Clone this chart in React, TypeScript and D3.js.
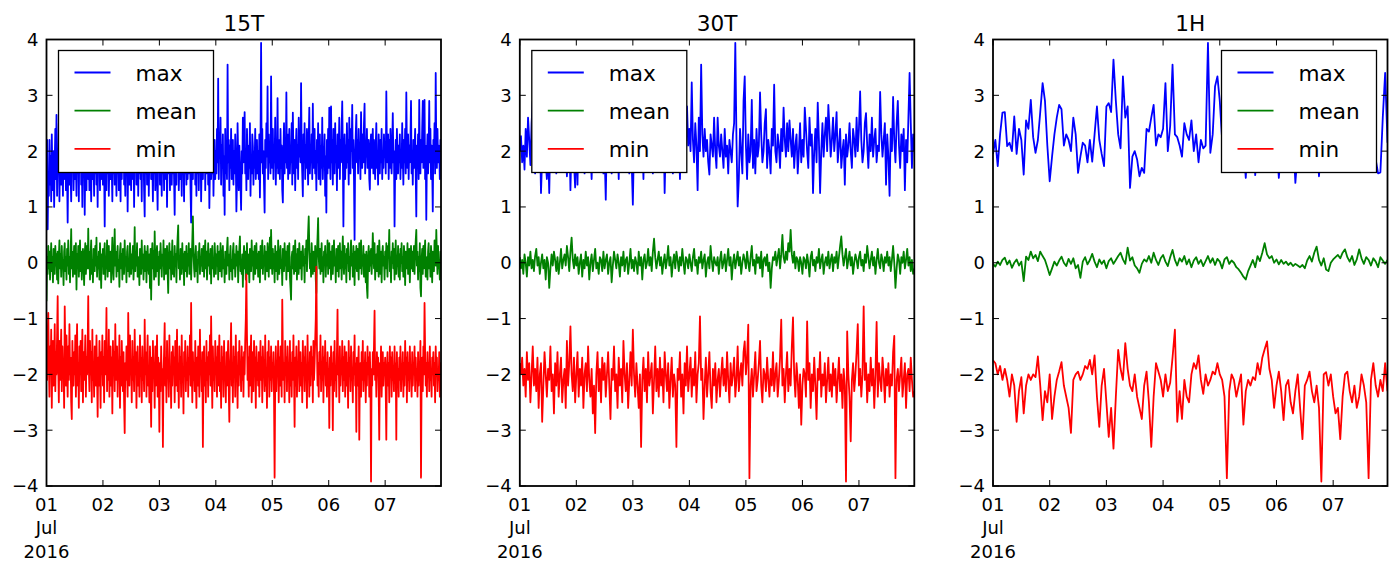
import React from 'react';
import * as d3 from 'd3';

// panel titles, resample step in minutes, legend entries
const titles = ['15T', '30T', '1H'];
const stepMinutes = [15, 30, 60];
const seriesNames = ['max', 'mean', 'min'];
const seriesColors = ['#0000ff', '#008000', '#ff0000'];
const yTicks = [-4, -3, -2, -1, 0, 1, 2, 3, 4];
const dayLabels = ['01', '02', '03', '04', '05', '06', '07'];

// ---- 15T ----
const max15T = [
  1.7, 2.2, 0.6, 1.5, 1.2, 2.2, 1.4, 1.9, 1.1, 2.3, 1.6, 1.3, 2.0, 1.0, 1.8, 2.4, 1.5, 2.65, 1.2, 1.9, 1.6, 2.5, 1.1, 1.8,
  2.1, 1.4, 2.8, 1.7, 1.2, 2.3, 1.5, 1.9, 2.6, 1.3, 2.0, 1.6, 0.72, 1.8, 2.2, 1.4, 2.9, 1.6, 1.1, 2.0, 1.7, 2.4, 1.3, 1.9,
  1.5, 2.2, 1.8, 1.2, 2.5, 1.6, 2.0, 1.1, 2.3, 1.7, 2.7, 1.4, 1.9, 1.0, 2.1, 1.6, 2.4, 0.86, 1.8, 2.2, 1.3, 2.6, 1.7, 1.5,
  2.0, 1.3, 2.4, 1.7, 1.1, 2.2, 1.5, 3.0, 1.8, 1.2, 2.1, 1.6, 2.5, 1.4, 1.9, 1.0, 2.3, 1.7, 2.0, 1.3, 2.6, 1.5, 2.2, 1.8,
  1.4, 2.1, 1.7, 0.65, 1.9, 2.4, 1.3, 2.0, 1.6, 2.7, 1.2, 1.8, 2.2, 1.5, 2.9, 1.7, 1.1, 2.3, 1.6, 2.0, 1.4, 2.5, 1.8, 1.2,
  2.2, 1.6, 2.0, 1.3, 2.6, 1.8, 1.1, 2.4, 1.5, 2.1, 1.7, 3.1, 1.4, 1.9, 1.2, 2.3, 1.6, 2.0, 0.92, 1.8, 2.5, 1.4, 2.1, 1.7,
  1.3, 2.4, 1.9, 1.5, 2.2, 1.0, 2.0, 1.7, 2.8, 1.4, 1.8, 2.3, 1.2, 2.1, 1.6, 2.6, 1.5, 1.9, 1.1, 2.4, 1.7, 2.0, 1.3, 0.83,
  2.2, 1.6, 2.5, 1.4, 1.9, 2.7, 1.2, 2.0, 1.7, 2.3, 1.5, 3.2, 1.8, 1.1, 2.1, 1.6, 2.4, 1.3, 1.9, 2.2, 1.5, 0.95, 2.0, 1.7,
  2.6, 1.4, 2.1, 1.8, 1.2, 2.3, 1.6, 2.0, 1.3, 2.8, 1.7, 1.5, 2.2, 1.0, 1.9, 2.4, 1.6, 2.1, 1.3, 2.5, 1.8, 1.4, 2.0, 1.6,
  2.3, 1.5, 0.86, 1.9, 2.6, 1.4, 2.1, 1.7, 3.0, 1.3, 1.8, 2.2, 1.5, 2.0, 1.2, 2.4, 1.7, 1.9, 1.1, 2.5, 1.6, 2.1, 1.4, 2.7,
  1.5, 1.9, 2.3, 1.6, 2.0, 1.3, 0.72, 1.8, 2.4, 1.5, 2.1, 1.7, 2.9, 1.4, 1.9, 1.2, 2.2, 1.6, 2.5, 1.3, 2.0, 1.7, 2.3, 1.1,
  1.8, 2.4, 1.5, 2.0, 1.7, 2.6, 1.3, 2.2, 1.6, 1.9, 2.8, 1.4, 2.1, 0.98, 1.7, 2.3, 1.5, 2.0, 1.6, 2.5, 1.2, 1.9, 2.2, 1.5,
  2.0, 1.6, 2.4, 1.8, 3.3, 1.5, 2.2, 1.9, 2.6, 1.4, 2.1, 1.7, 2.3, 1.2, 1.9, 0.86, 2.4, 1.6, 2.0, 1.5, 3.55, 1.8, 2.2, 1.3,
  2.1, 1.7, 2.4, 1.5, 1.9, 2.2, 1.4, 2.0, 1.6, 2.3, 1.8, 0.92, 1.5, 2.5, 1.9, 1.3, 2.1, 1.7, 1.4, 0.95, 2.0, 1.6, 2.6, 1.8,
  2.2, 2.7, 1.6, 2.0, 1.3, 2.4, 1.8, 1.5, 2.1, 1.7, 2.5, 1.2, 1.9, 1.6, 2.3, 2.09, 1.4, 2.0, 1.7, 2.4, 1.5, 1.9, 2.2, 1.6,
  2.0, 1.5, 2.3, 1.17, 2.1, 3.94, 1.8, 2.4, 1.6, 2.0, 1.4, 0.9, 2.2, 1.7, 2.5, 1.9, 3.16, 1.5, 2.3, 1.8, 2.1, 1.6, 3.34, 2.0,
  1.7, 2.4, 1.5, 2.1, 1.8, 2.6, 1.4, 2.0, 1.7, 2.95, 1.6, 2.2, 1.9, 1.5, 2.4, 1.7, 2.1, 1.3, 1.08, 2.0, 2.5, 1.6, 2.2, 1.8,
  3.05, 1.7, 2.3, 1.5, 2.0, 2.4, 1.6, 2.1, 1.8, 2.5, 1.4, 2.69, 1.9, 1.6, 2.2, 1.3, 2.0, 2.4, 1.7, 2.1, 1.5, 2.6, 1.9, 2.2,
  1.8, 3.22, 2.0, 1.6, 1.19, 2.3, 1.8, 2.5, 1.5, 2.1, 1.7, 2.4, 1.9, 1.4, 2.2, 2.78, 1.6, 2.0, 1.8, 2.3, 1.5, 2.85, 1.7, 2.1,
  2.4, 1.6, 2.0, 1.3, 2.2, 1.8, 2.5, 1.5, 1.9, 2.3, 1.4, 2.1, 1.7, 2.6, 1.5, 2.0, 1.8, 2.3, 1.2, 1.9, 0.9, 2.2, 1.6, 2.4,
  1.7, 2.78, 2.0, 1.5, 2.8, 1.8, 2.2, 1.4, 2.4, 1.9, 1.6, 2.5, 1.8, 2.1, 1.3, 2.3, 1.7, 2.0, 2.6, 1.5, 2.2, 1.8, 2.4, 2.89,
  2.0, 0.65, 1.9, 2.3, 1.5, 2.1, 1.7, 2.5, 1.8, 2.2, 1.4, 2.6, 1.9, 1.6, 2.4, 2.0, 2.83, 1.7, 2.2, 1.5, 0.41, 1.9, 2.3, 2.65,
  1.8, 2.2, 1.6, 2.4, 1.9, 2.1, 1.5, 2.7, 2.0, 1.7, 2.3, 1.8, 2.5, 2.85, 1.6, 2.1, 1.9, 2.4, 1.7, 2.0, 2.2, 1.5, 1.31, 2.1,
  2.3, 1.7, 2.0, 2.4, 1.6, 2.2, 1.8, 1.5, 2.1, 2.5, 1.7, 2.0, 1.4, 2.3, 1.9, 1.6, 2.2, 1.8, 2.4, 1.5, 2.0, 1.7, 2.3, 1.9,
  2.1, 1.6, 3.07, 2.0, 1.8, 2.3, 1.5, 2.2, 1.7, 2.4, 1.9, 1.6, 2.1, 2.68, 1.8, 2.0, 0.65, 1.7, 2.2, 1.5, 2.4, 1.9, 1.6, 2.1,
  1.8, 2.3, 1.5, 2.0, 1.7, 2.5, 1.9, 1.4, 2.2, 1.8, 2.4, 1.6, 3.05, 2.0, 1.7, 2.3, 1.5, 2.1, 1.8, 2.2, 2.9, 1.6, 2.0, 1.4,
  2.2, 1.7, 2.0, 2.4, 1.6, 0.83, 2.1, 1.8, 2.3, 1.5, 2.92, 1.9, 1.6, 2.2, 1.8, 2.4, 2.9, 1.7, 2.0, 2.92, 1.5, 2.1, 0.77, 1.9,
  2.3, 1.6, 2.0, 2.9, 1.8, 2.4, 1.5, 2.1, 1.7, 0.92, 2.2, 1.9, 2.5, 1.6, 3.4, 2.0, 1.7, 2.4, 1.8, 2.1, 2.0, 1.5, 2.2, 1.9,
];

const mean15T = [
  -0.69, 0.1, -0.2, 0.3, -0.1, 0.2, -0.3, 0.05, 0.35, -0.15, 0.1, -0.35, 0.25, 0.0, -0.2, 0.3, -0.05, 0.15, -0.3, 0.2, -0.37, 0.1, 0.4, -0.1,
  0.15, -0.25, 0.3, -0.1, 0.05, -0.4, 0.2, 0.35, -0.15, 0.1, -0.3, 0.25, -0.05, 0.4, -0.2, 0.1, -0.35, 0.15, 0.6, -0.1, 0.2, -0.25, 0.05, 0.3,
  -0.2, 0.1, 0.35, -0.48, 0.15, -0.1, 0.3, -0.25, 0.05, 0.4, -0.15, 0.2, -0.3, 0.1, 0.25, -0.05, -0.4, 0.15, 0.35, -0.2, 0.05, 0.3, -0.1, 0.61,
  -0.1, 0.2, -0.3, 0.15, 0.4, -0.2, 0.05, -0.35, 0.25, 0.1, -0.15, 0.3, -0.05, 0.45, -0.25, 0.1, -0.1, 0.2, -0.3, 0.35, 0.0, -0.45, 0.15, -0.05,
  0.25, -0.2, 0.1, 0.35, -0.3, 0.05, -0.1, 0.4, -0.25, 0.15, 0.3, -0.15, 0.0, 0.2, -0.35, 0.1, 0.45, -0.1, -0.3, 0.15, 0.6, -0.05, 0.2, -0.25,
  0.1, 0.3, -0.15, 0.05, -0.43, 0.2, 0.35, -0.1, 0.15, -0.3, 0.25, 0.0, -0.2, 0.4, -0.05, 0.1, -0.35, 0.2, 0.3, -0.15, 0.05, -0.25, 0.35, 0.1,
  -0.2, 0.15, -0.1, 0.3, -0.3, 0.05, 0.64, -0.15, 0.2, -0.05, 0.35, -0.25, 0.1, 0.0, -0.4, 0.25, 0.1, -0.2, 0.4, -0.1, 0.15, -0.3, 0.05, 0.3,
  -0.15, 0.2, -0.35, 0.1, 0.3, -0.05, -0.2, 0.15, -0.45, 0.25, -0.66, 0.05, 0.35, -0.1, 0.2, -0.3, 0.56, 0.0, -0.25, 0.15, 0.3, -0.15, 0.1, -0.4,
  0.2, -0.1, 0.35, 0.05, -0.25, 0.15, -0.05, 0.4, -0.3, 0.1, 0.25, -0.2, 0.0, 0.3, -0.15, -0.54, 0.1, 0.35, -0.1, 0.2, -0.3, 0.05, 0.4, -0.2,
  0.1, -0.25, 0.3, -0.05, 0.15, -0.35, 0.2, 0.45, 0.67, -0.1, 0.1, -0.3, 0.25, 0.0, -0.2, 0.35, -0.1, 0.15, -0.4, 0.2, 0.05, -0.15, 0.3, -0.25,
  0.15, -0.05, 0.35, -0.2, 0.1, 0.25, -0.3, 0.05, 0.4, 0.83, 0.2, -0.1, -0.25, 0.1, 0.3, -0.15, 0.05, -0.35, 0.2, 0.0, 0.35, -0.2, 0.1, -0.05,
  0.25, -0.15, 0.05, 0.3, -0.25, 0.15, 0.4, -0.1, 0.2, -0.3, 0.0, 0.35, -0.05, 0.15, -0.2, 0.25, -0.37, 0.1, 0.3, -0.1, 0.05, -0.25, 0.35, 0.1,
  -0.2, 0.15, -0.05, 0.3, -0.3, 0.1, 0.2, -0.15, 0.35, 0.0, -0.25, 0.15, 0.3, -0.1, 0.05, -0.35, 0.2, 0.1, -0.2, 0.25, 0.45, -0.05, 0.15, -0.3,
  0.1, 0.3, -0.15, 0.05, -0.3, 0.2, 0.35, -0.1, 0.15, -0.25, 0.0, 0.3, -0.05, 0.2, -0.35, 0.1, 0.25, 0.47, -0.15, 0.05, -0.2, 0.15, -0.43, 0.1,
  0.3, -0.1, 0.2, -0.3, 0.05, 0.35, -0.2, 0.15, 0.0, -0.35, 0.25, 0.1, -0.15, 0.4, -0.05, 0.2, -0.3, 0.1, 0.3, -0.2, 0.05, 0.35, -0.1, 0.15,
  -0.25, 0.2, 0.05, -0.35, 0.3, -0.1, 0.15, 0.4, -0.2, 0.1, -0.05, 0.3, -0.3, 0.2, 0.0, -0.15, 0.35, 0.1, -0.25, 0.2, 0.45, -0.1, 0.59, 0.05,
  -0.2, 0.25, -0.1, 0.15, -0.35, 0.3, 0.05, -0.15, 0.2, -0.3, 0.4, 0.0, -0.2, 0.15, 0.3, -0.1, 0.05, -0.4, 0.25, 0.1, -0.15, 0.35, -0.05, 0.2,
  -0.3, 0.1, 0.3, -0.15, 0.05, 0.35, -0.25, -0.45, -0.66, 0.1, 0.2, -0.1, 0.3, -0.2, 0.05, 0.4, -0.15, 0.15, -0.3, 0.25, 0.0, -0.2, 0.35, 0.1,
  -0.1, 0.2, -0.3, 0.15, 0.3, -0.05, 0.1, -0.35, 0.25, 0.0, 0.4, -0.15, 0.2, 0.55, 0.83, 0.3, -0.1, 0.15, -0.25, 0.35, 0.05, -0.2, 0.2, 0.1,
  -0.15, 0.3, -0.3, -0.54, 0.2, 0.45, 0.8, 0.1, -0.1, 0.25, -0.2, 0.05, 0.35, -0.15, 0.1, -0.35, 0.2, 0.0, 0.3, -0.25, 0.15, -0.05, 0.4, -0.2,
  0.1, 0.35, -0.1, 0.2, -0.3, 0.05, 0.3, -0.2, 0.15, 0.4, -0.05, 0.1, -0.35, 0.25, 0.0, -0.15, 0.3, -0.25, 0.1, 0.35, -0.1, 0.2, -0.3, 0.15,
  0.47, 0.05, -0.2, 0.3, -0.1, 0.15, -0.35, 0.25, 0.0, 0.35, -0.15, 0.1, -0.3, 0.2, 0.4, -0.05, 0.15, -0.25, 0.3, 0.05, -0.4, 0.2, -0.1, 0.3,
  -0.15, 0.25, 0.05, -0.3, 0.35, -0.1, 0.15, 0.4, -0.2, 0.1, -0.05, 0.3, -0.25, 0.15, 0.0, -0.35, 0.2, -0.45, -0.63, 0.1, 0.3, -0.15, 0.2, -0.05,
  0.25, -0.2, 0.1, 0.53, 0.2, -0.1, 0.35, -0.3, 0.05, 0.15, -0.15, 0.3, 0.0, -0.25, 0.4, 0.1, -0.2, 0.2, -0.35, 0.15, 0.3, -0.05, 0.1, -0.3,
  0.2, -0.1, 0.35, 0.05, -0.25, 0.3, 0.15, 0.59, -0.15, 0.1, -0.35, 0.2, 0.0, 0.35, -0.1, 0.25, -0.3, 0.1, 0.4, -0.2, 0.05, -0.05, 0.3, -0.25,
  0.15, -0.3, 0.25, 0.0, 0.35, -0.15, 0.1, -0.25, 0.3, 0.05, -0.4, 0.2, 0.1, -0.1, 0.35, -0.2, 0.15, 0.25, -0.35, 0.05, 0.3, -0.1, 0.2, -0.15,
  0.1, 0.3, -0.2, 0.15, 0.4, 0.59, -0.05, 0.2, -0.3, 0.1, -0.15, 0.35, -0.45, -0.6, 0.05, 0.25, -0.2, 0.3, -0.1, 0.15, 0.4, -0.25, 0.1, 0.0,
  -0.3, 0.2, 0.35, -0.1, 0.15, -0.25, 0.3, 0.05, -0.35, 0.2, 0.1, -0.15, 0.4, 0.25, -0.05, 0.59, 0.15, -0.2, 0.3, -0.1, 0.05, -0.3, 0.2, -0.1,
];

const min15T = [
  -1.6, -2.1, -1.3, -0.9, -1.8, -2.4, -1.5, -2.0, -1.2, -2.6, -1.7, -1.4, -2.2, -1.9, -1.1, -2.3, -1.6, -2.0, -1.3, -0.6, -1.9, -2.5, -1.4, -2.1,
  -1.7, -1.2, -2.3, -1.5, -2.0, -1.8, -2.6, -0.78, -1.6, -2.2, -1.3, -1.9, -2.4, -1.5, -2.1, -1.1, -2.0, -1.7, -2.5, -2.8, -1.4, -1.9, -2.2, -1.6,
  -2.0, -1.3, -2.4, -1.7, -1.1, -2.2, -1.8, -2.6, -1.5, -2.0, -1.4, -2.3, -1.9, -1.2, -2.5, -1.6, -2.1, -1.8, -1.3, -2.4, -1.7, -2.0, -1.5, -0.6,
  -1.9, -2.3, -1.4, -2.0, -1.6, -2.5, -1.2, -2.1, -1.8, -2.4, -1.5, -1.9, -2.2, -1.3, -2.0, -2.76, -1.7, -2.2, -1.4, -1.9, -2.6, -1.6, -2.0, -1.3,
  -2.2, -1.7, -2.5, -1.4, -2.0, -1.8, -0.81, -2.3, -1.6, -2.1, -1.2, -2.4, -1.9, -1.5, -2.2, -1.7, -2.7, -1.4, -2.0, -1.6, -2.3, -1.1, -1.9, -2.1,
  -1.5, -2.4, -1.8, -2.0, -1.3, -2.6, -1.7, -2.2, -1.4, -1.9, -2.3, -1.6, -2.5, -3.05, -1.8, -2.1, -1.5, -2.0, -2.4, -0.9, -1.7, -2.2, -1.3, -2.0,
  -1.8, -2.5, -1.4, -2.1, -1.7, -2.3, -1.2, -2.0, -1.6, -2.6, -1.9, -1.5, -2.2, -1.8, -2.4, -1.3, -2.0, -1.7, -2.5, -1.5, -2.1, -1.8, -2.3, -1.02,
  -2.0, -1.6, -2.4, -1.8, -1.3, -2.2, -1.9, -2.5, -1.5, -2.1, -2.94, -1.7, -2.3, -1.4, -2.0, -1.8, -2.6, -1.5, -2.2, -1.9, -1.3, -2.4, -1.7, -2.0,
  -3.03, -1.8, -2.3, -1.5, -2.1, -1.9, -3.3, -2.0, -1.6, -1.08, -2.2, -1.7, -2.5, -1.4, -2.0, -1.8, -2.4, -1.3, -2.1, -1.9, -2.6, -1.6, -2.2, -1.5,
  -2.0, -1.7, -2.5, -1.4, -2.2, -1.9, -1.2, -2.3, -1.8, -2.6, -1.5, -2.0, -1.7, -2.4, -1.3, -2.1, -1.9, -2.7, -1.6, -2.0, -1.4, -2.3, -1.8, -2.1,
  -1.5, -2.4, -1.7, -2.0, -1.3, -2.2, -0.72, -1.9, -2.5, -1.6, -2.1, -1.8, -2.3, -1.4, -2.0, -2.6, -1.7, -2.2, -1.5, -1.9, -2.4, -1.2, -2.0, -1.8,
  -2.3, -1.6, -3.3, -2.0, -1.5, -2.2, -1.8, -2.5, -1.4, -2.1, -1.7, -2.4, -1.6, -2.0, -1.3, -2.2, -0.96, -1.9, -2.6, -1.5, -2.1, -1.8, -2.3, -1.4,
  -2.0, -1.7, -2.4, -1.5, -2.2, -1.9, -1.3, -2.3, -1.8, -2.6, -1.5, -2.0, -1.7, -2.4, -1.4, -2.1, -1.9, -2.5, -1.6, -2.2, -1.8, -1.4, -2.3, -2.85,
  -1.9, -1.6, -1.08, -2.2, -1.8, -2.5, -1.5, -2.0, -1.7, -2.4, -1.3, -2.1, -1.9, -2.6, -1.6, -2.2, -1.4, -2.0, -1.8, -2.3, -1.5, -2.1, -1.7, -2.4,
  -1.6, -2.0, -1.4, -1.0, -0.21, -1.3, -2.1, -1.7, -2.4, -1.5, -2.2, -1.8, -1.3, -2.5, -1.9, -1.6, -2.3, -1.4, -2.0, -1.7, -2.6, -1.5, -2.1, -1.8,
  -2.2, -1.6, -2.4, -1.9, -1.4, -2.1, -1.7, -2.5, -1.5, -2.0, -1.8, -2.3, -1.3, -2.2, -1.9, -2.6, -1.6, -2.0, -1.4, -2.4, -1.7, -2.1, -1.5, -2.3,
  -1.8, -2.0, -1.6, -2.4, -3.85, -2.1, -1.5, -2.3, -1.8, -2.0, -1.4, -2.5, -1.7, -2.2, -1.5, -1.9, -2.4, -0.66, -1.6, -2.1, -1.8, -2.5, -1.4, -2.0,
  -1.7, -2.3, -1.5, -2.0, -1.9, -2.5, -1.4, -2.2, -1.8, -2.4, -1.6, -2.1, -1.3, -2.0, -2.94, -1.7, -2.2, -1.5, -2.4, -1.8, -2.0, -1.4, -2.3, -1.9,
  -1.6, -2.2, -1.8, -2.5, -1.4, -2.0, -1.7, -2.3, -1.5, -2.1, -1.9, -2.6, -1.3, -2.0, -1.8, -2.4, -1.6, -2.2, -1.5, -2.0, -1.7, -2.5, -1.4, -2.1,
  -1.8, -1.4, -1.0, -0.07, -1.5, -2.2, -1.8, -2.4, -1.6, -2.0, -1.3, -2.3, -1.9, -2.1, -1.5, -2.5, -1.7, -2.0, -1.4, -2.2, -1.8, -2.4, -1.6, -2.0,
  -1.9, -2.96, -1.7, -2.2, -1.5, -2.0, -1.8, -3.0, -1.6, -2.3, -1.4, -2.1, -1.9, -2.4, -1.6, -0.84, -2.0, -1.7, -2.5, -1.5, -2.2, -1.8, -2.0, -1.4,
  -2.3, -1.7, -2.1, -1.5, -2.4, -1.9, -1.6, -2.2, -1.8, -2.6, -1.4, -2.0, -1.7, -2.3, -1.5, -2.1, -1.9, -2.5, -1.6, -2.0, -1.3, -2.2, -1.8, -3.03,
  -1.7, -2.2, -1.9, -1.5, -3.17, -2.0, -1.8, -2.4, -1.6, -2.1, -1.4, -2.3, -1.9, -2.0, -1.6, -2.5, -1.8, -2.2, -1.5, -2.0, -1.7, -2.4, -1.6, -2.1,
  -3.92, -1.9, -2.2, -1.6, -2.0, -1.5, -0.86, -2.1, -1.8, -2.4, -1.6, -2.0, -1.7, -2.3, -3.17, -1.8, -2.1, -1.5, -2.4, -1.9, -1.6, -2.2, -1.8, -2.0,
  -1.7, -2.3, -3.17, -1.9, -1.6, -2.2, -1.8, -2.5, -1.5, -2.0, -1.7, -2.4, -1.6, -2.1, -1.9, -2.3, -1.5, -2.0, -1.8, -3.17, -1.6, -2.2, -1.9, -2.4,
  -1.7, -2.1, -1.5, -2.3, -1.9, -2.0, -1.6, -2.4, -1.8, -2.2, -1.4, -2.0, -1.7, -2.5, -1.6, -2.1, -1.8, -2.3, -1.5, -2.0, -1.9, -2.4, -1.6, -2.2,
  -1.8, -2.0, -1.5, -2.3, -1.7, -2.1, -1.9, -2.4, -1.6, -2.2, -1.8, -2.0, -1.4, -3.85, -2.1, -1.7, -2.3, -1.5, -2.0, -0.72, -1.6, -2.2, -1.8, -2.4,
  -1.6, -2.0, -1.8, -2.3, -1.5, -2.1, -1.9, -2.4, -1.7, -2.0, -1.6, -2.2, -1.8, -2.5, -1.5, -2.0, -1.7, -2.3, -1.9, -2.1, -1.6, -2.4, -1.8, -2.3,
];

// ---- 30T ----
const max30T = [
  2.0, 2.27, 1.8, 2.1, 1.67, 2.4, 1.9, 2.6, 2.2, 1.75, 2.5, 2.9, 2.1, 1.6, 2.3, 2.0, 1.7, 2.4, 1.25, 1.9, 2.2, 2.7, 1.8, 1.5,
  2.1, 1.25, 2.3, 2.8, 1.9, 2.0, 2.5, 1.6, 2.2, 3.0, 2.4, 1.7, 2.1, 1.9, 2.6, 2.3, 1.55, 2.0, 2.4, 1.3, 2.2, 2.7, 1.8, 1.35,
  2.3, 1.4, 2.6, 2.0, 1.9, 2.9, 2.2, 1.6, 2.4, 2.1, 1.8, 2.7, 2.0, 1.5, 2.3, 2.5, 1.9, 2.2, 3.1, 2.0, 1.7, 2.4, 2.2, 1.6,
  2.0, 1.13, 2.4, 2.7, 1.9, 2.2, 1.6, 2.5, 2.1, 2.8, 1.8, 2.3, 1.5, 2.6, 2.0, 2.2, 1.7, 2.9, 2.4, 1.9, 2.1, 1.6, 2.3, 1.8,
  1.04, 2.2, 2.6, 1.9, 2.4, 1.7, 2.0, 2.8, 2.2, 1.5, 2.5, 2.1, 3.2, 2.3, 1.8, 2.0, 2.6, 1.6, 2.4, 2.2, 1.9, 2.7, 2.1, 1.7,
  2.3, 2.0, 2.6, 1.25, 2.2, 2.5, 1.9, 2.1, 2.9, 2.4, 1.6, 2.0, 2.3, 1.8, 2.7, 2.2, 1.5, 2.4, 2.0, 2.6, 1.9, 2.3, 2.8, 2.1,
  2.4, 2.0, 3.23, 2.2, 1.8, 2.5, 2.1, 1.3, 2.6, 2.0, 3.55, 2.3, 1.9, 2.4, 2.0, 2.2, 1.8, 1.58, 2.3, 2.1, 1.9, 2.6, 2.0, 1.7,
  2.6, 2.1, 1.9, 2.3, 2.0, 1.7, 2.4, 1.9, 2.1, 1.6, 2.2, 2.0, 1.8, 2.3, 2.5, 3.94, 2.2, 1.01, 1.5, 2.4, 2.0, 1.6, 2.9, 3.34,
  2.1, 1.5, 2.3, 1.8, 2.0, 2.92, 1.7, 2.2, 1.6, 2.4, 1.9, 2.1, 3.05, 2.3, 1.8, 2.0, 2.5, 2.75, 1.7, 2.2, 2.0, 1.6, 2.4, 2.1,
  3.19, 2.0, 1.8, 2.3, 2.1, 1.7, 2.4, 2.0, 2.78, 2.2, 1.9, 2.5, 2.0, 2.55, 2.2, 1.9, 2.4, 1.7, 2.1, 2.3, 1.6, 2.0, 2.5, 1.8,
  2.2, 1.9, 2.78, 2.4, 2.0, 1.7, 2.6, 2.1, 2.3, 1.25, 2.0, 2.4, 1.8, 2.87, 2.2, 1.25, 2.0, 2.5, 1.9, 2.3, 2.6, 2.0, 2.83, 2.4,
  1.9, 2.2, 2.6, 2.0, 2.3, 2.7, 1.8, 2.1, 2.4, 1.7, 2.0, 2.2, 1.4, 2.3, 1.9, 2.1, 2.5, 2.0, 1.7, 2.4, 2.2, 1.9, 2.6, 2.0,
  2.4, 3.07, 2.2, 1.8, 2.0, 2.5, 2.68, 2.1, 1.7, 2.3, 2.0, 2.6, 1.9, 2.2, 2.4, 1.8, 2.1, 2.0, 3.06, 2.3, 1.9, 2.2, 2.5, 1.4,
  2.3, 1.9, 1.2, 2.4, 2.0, 2.97, 2.2, 1.8, 2.5, 2.9, 2.1, 1.7, 2.3, 2.0, 2.4, 1.3, 2.2, 1.8, 2.6, 3.4, 2.5, 1.7, 2.3, 2.0,
];

const mean30T = [
  0.1, -0.1, 0.05, -0.2, 0.15, 0.0, -0.25, 0.1, -0.05, 0.2, -0.1, 0.05, -0.15, 0.12, 0.25, -0.05, 0.1, -0.2, 0.0, 0.15, -0.1, 0.05, -0.3, 0.1,
  0.0, -0.45, -0.1, 0.15, -0.05, 0.2, 0.05, -0.15, 0.1, -0.2, 0.0, 0.25, -0.1, 0.05, 0.15, -0.05, 0.3, 0.1, -0.15, 0.2, 0.45, 0.05, -0.1, 0.15,
  -0.05, 0.1, -0.2, 0.0, 0.15, -0.25, 0.05, -0.1, 0.2, -0.05, 0.1, -0.3, 0.0, 0.15, -0.15, 0.05, 0.25, -0.1, 0.0, -0.2, 0.1, 0.05, -0.15, 0.2,
  -0.1, 0.05, 0.15, -0.2, 0.0, 0.1, -0.35, -0.05, 0.2, 0.05, -0.1, 0.15, 0.0, -0.25, 0.1, -0.05, 0.2, -0.15, 0.05, 0.1, -0.2, 0.0, 0.25, -0.1,
  0.05, -0.15, 0.1, 0.0, -0.2, 0.2, -0.05, 0.1, -0.3, 0.05, 0.15, -0.1, 0.0, 0.25, -0.05, 0.1, -0.15, 0.2, 0.43, 0.1, -0.1, 0.05, 0.2, -0.05,
  0.1, -0.2, 0.0, 0.15, -0.1, 0.05, 0.3, -0.05, 0.1, -0.25, 0.0, 0.15, -0.1, 0.2, 0.05, -0.15, 0.1, -0.05, 0.25, 0.0, -0.2, 0.1, 0.05, -0.1,
  0.15, 0.0, -0.15, 0.1, 0.25, -0.05, 0.05, -0.2, 0.1, 0.0, 0.2, -0.1, 0.05, 0.15, -0.25, 0.0, 0.1, -0.1, 0.3, 0.05, -0.15, 0.1, 0.0, -0.05,
  0.1, -0.2, 0.05, 0.2, -0.1, 0.0, 0.15, -0.15, 0.05, 0.25, -0.05, 0.1, -0.3, 0.0, 0.15, -0.1, 0.05, 0.2, -0.05, 0.1, -0.2, 0.0, 0.15, 0.05,
  -0.1, 0.2, 0.0, -0.15, 0.1, 0.3, -0.05, 0.05, -0.2, 0.15, 0.0, 0.1, -0.1, 0.2, -0.25, 0.05, 0.1, -0.05, 0.15, -0.15, 0.0, -0.45, -0.1, 0.1,
  0.05, 0.2, -0.05, 0.1, 0.25, -0.1, 0.15, 0.5, 0.1, 0.0, 0.2, 0.05, 0.35, 0.2, 0.59, 0.15, 0.0, 0.2, -0.1, 0.1, 0.05, -0.15, 0.1, 0.0,
  -0.2, 0.1, 0.05, -0.1, 0.15, 0.0, -0.25, 0.1, 0.2, -0.05, 0.05, -0.15, 0.1, 0.0, 0.25, -0.1, 0.05, 0.15, -0.2, 0.0, 0.1, -0.05, 0.2, -0.1,
  0.05, 0.15, -0.15, 0.1, 0.0, 0.2, -0.1, 0.1, 0.3, 0.47, 0.15, -0.05, 0.1, 0.25, -0.1, 0.05, 0.2, -0.05, 0.1, -0.2, 0.0, 0.15, 0.05, -0.1,
  0.1, 0.2, -0.05, 0.05, -0.15, 0.15, 0.0, 0.3, 0.1, -0.1, 0.05, 0.2, -0.05, 0.1, -0.2, 0.05, 0.25, 0.0, -0.1, 0.15, 0.05, -0.15, 0.1, 0.0,
  0.2, -0.05, 0.1, -0.15, 0.05, 0.3, 0.0, -0.45, -0.1, 0.15, 0.05, -0.2, 0.1, 0.0, 0.2, -0.1, 0.05, 0.25, -0.05, 0.1, -0.15, 0.05, -0.2, -0.1,
];

const min30T = [
  -1.8, -2.0, -1.7, -2.2, -1.9, -2.4, -1.6, -2.1, -1.8, -2.5, -2.0, -1.5, -2.2, -1.9, -2.3, -1.7, -2.6, -2.0, -1.8, -2.85, -2.2, -1.6, -2.0, -2.4,
  -1.9, -2.1, -1.5, -2.3, -2.0, -2.7, -1.8, -2.2, -1.6, -2.4, -2.0, -1.7, -2.5, -2.1, -1.9, -2.6, -1.4, -2.2, -1.8, -1.14, -2.0, -2.3, -1.7, -2.5,
  -2.0, -1.6, -2.4, -1.9, -2.2, -1.7, -2.6, -2.0, -1.8, -2.3, -1.5, -2.1, -2.4, -1.9, -2.7, -2.2, -3.05, -2.0, -1.6, -2.3, -1.9, -2.5, -1.7, -2.1,
  -1.8, -2.4, -2.0, -1.6, -2.2, -2.8, -1.9, -2.1, -1.5, -2.3, -2.0, -2.6, -1.7, -2.2, -1.9, -2.5, -1.4, -2.0, -2.3, -1.8, -2.6, -2.1, -1.6, -2.2,
  -1.2, -2.0, -2.4, -1.8, -2.2, -2.6, -2.0, -3.3, -2.1, -1.7, -2.3, -1.9, -2.5, -1.6, -2.2, -2.0, -1.8, -2.7, -2.1, -1.5, -2.3, -1.9, -2.4, -1.7,
  -2.2, -1.9, -2.5, -1.6, -2.0, -2.3, -1.8, -2.6, -2.1, -1.7, -2.4, -2.0, -2.2, -3.3, -1.9, -2.1, -1.6, -2.4, -2.0, -2.7, -1.8, -2.2, -1.5, -2.3,
  -2.0, -1.7, -2.4, -1.9, -2.2, -1.6, -2.5, -2.0, -1.8, -0.96, -2.1, -1.9, -2.8, -2.2, -1.7, -2.4, -2.0, -1.6, -2.3, -2.6, -1.9, -2.2, -1.8, -2.5,
  -2.1, -1.9, -2.4, -2.0, -1.7, -2.2, -1.9, -2.3, -1.6, -2.1, -2.5, -1.8, -2.2, -2.0, -1.7, -2.4, -2.1, -1.5, -2.3, -2.0, -1.8, -2.2, -1.6, -1.41,
  -2.0, -1.7, -1.11, -3.86, -2.2, -1.9, -2.4, -2.0, -1.6, -2.3, -2.1, -1.8, -1.4, -2.2, -2.5, -1.9, -2.0, -2.3, -1.7, -2.1, -2.4, -1.9, -2.2, -1.6,
  -2.3, -2.0, -1.8, -2.4, -2.1, -1.7, -1.02, -2.2, -1.9, -2.5, -2.0, -1.6, -2.3, -1.9, -2.2, -1.5, -0.98, -2.0, -2.4, -1.8, -2.1, -2.6, -2.0, -2.9,
  -2.2, -1.9, -2.0, -2.4, -1.05, -2.1, -1.8, -2.6, -2.0, -2.3, -1.7, -2.2, -2.8, -1.9, -2.1, -1.6, -2.4, -2.0, -2.2, -1.8, -2.5, -2.1, -1.7, -2.3,
  -2.0, -2.4, -1.8, -2.2, -1.9, -2.5, -2.1, -1.7, -2.3, -2.0, -2.6, -1.9, -2.2, -3.92, -1.23, -2.0, -2.4, -3.2, -2.1, -1.8, -2.3, -2.0, -1.6, -1.1,
  -2.2, -1.9, -2.4, -2.0, -0.78, -2.1, -1.8, -2.5, -2.0, -2.3, -1.7, -2.2, -1.9, -2.6, -2.0, -1.06, -2.4, -1.8, -2.1, -2.3, -1.7, -2.0, -2.5, -1.9,
  -2.2, -1.8, -2.4, -2.0, -2.2, -1.6, -1.31, -3.86, -2.1, -1.9, -2.3, -2.0, -1.7, -2.4, -2.1, -1.8, -2.6, -2.0, -1.9, -2.3, -1.7, -2.1, -2.4, -2.3,
];

// ---- 1H ----
const max1H = [
  1.95, 2.2, 1.73, 2.3, 2.69, 2.7, 2.09, 2.15, 2.0, 2.62, 1.95, 2.4, 2.2, 1.58, 2.55, 2.4, 2.92, 2.25, 1.97, 2.2, 2.7, 3.22, 2.9, 2.1,
  1.46, 1.9, 2.3, 2.6, 2.83, 2.75, 2.1, 2.3, 2.2, 2.0, 2.6, 2.3, 1.61, 1.9, 2.15, 2.1, 1.8, 2.2, 1.81, 2.3, 2.8, 2.2, 1.95, 1.73,
  2.8, 2.86, 2.7, 3.64, 2.9, 2.3, 2.05, 3.34, 2.6, 2.8, 1.34, 1.9, 2.0, 1.85, 1.55, 1.7, 1.61, 2.4, 2.35, 2.6, 2.83, 2.1, 2.3, 2.25,
  2.4, 3.22, 2.0, 2.45, 3.55, 2.3, 2.25, 2.1, 1.9, 2.5, 2.3, 2.2, 2.55, 2.0, 2.3, 1.8, 2.2, 2.05, 2.1, 3.94, 1.97, 2.3, 3.16, 3.34,
  2.9, 2.2, 2.6, 3.35, 2.4, 1.9, 2.2, 2.7, 2.0, 1.8, 2.1, 1.52, 2.3, 2.0, 2.5, 1.57, 2.2, 2.6, 1.9, 2.4, 2.1, 2.8, 2.3, 1.9,
  2.2, 1.52, 2.1, 2.5, 2.9, 2.2, 1.8, 2.3, 1.43, 2.0, 2.4, 2.7, 2.1, 1.9, 2.5, 2.2, 2.0, 2.3, 1.55, 2.2, 2.8, 2.4, 2.1, 1.8,
  2.5, 2.3, 2.9, 2.2, 1.9, 2.6, 2.4, 2.0, 2.2, 2.7, 2.3, 1.9, 2.4, 2.1, 2.6, 2.2, 1.9, 2.3, 1.85, 1.6, 1.62, 2.6, 3.4, 2.15,
];

const mean1H = [
  -0.02, -0.07, 0.02, -0.04, 0.05, 0.09, -0.03, 0.04, -0.09, 0.0, 0.06, -0.05, 0.02, -0.33, 0.11, 0.05, 0.2, 0.08, 0.14, 0.03, 0.2, 0.12, 0.05, -0.08,
  -0.22, -0.1, 0.02, -0.05, 0.04, 0.11, 0.0, -0.06, 0.07, -0.02, 0.08, -0.1, -0.04, -0.27, 0.02, 0.1, -0.03, 0.05, 0.16, 0.02, -0.08, 0.06, -0.02, 0.04,
  -0.1, 0.03, 0.08, -0.02, 0.05, 0.12, 0.18, 0.06, -0.02, 0.27, 0.04, 0.1, -0.05, -0.1, -0.18, -0.02, 0.06, 0.02, 0.12, 0.0, 0.18, 0.05, -0.04, 0.08,
  0.14, 0.02, -0.06, 0.1, 0.23, 0.05, -0.05, 0.08, 0.02, 0.12, -0.03, 0.06, -0.08, 0.04, 0.1, -0.02, 0.05, -0.06, 0.03, 0.12, 0.0, 0.08, -0.04, 0.07,
  0.02, -0.1, 0.06, 0.1, -0.02, 0.04, 0.0, -0.08, -0.12, -0.18, -0.25, -0.3, -0.15, -0.05, 0.05, -0.08, 0.12, 0.03, 0.18, 0.35, 0.15, 0.08, 0.12, 0.0,
  0.06, -0.03, 0.05, -0.02, 0.02, -0.04, 0.0, -0.06, -0.02, -0.05, -0.08, -0.04, -0.1, 0.04, 0.12, 0.02, 0.18, 0.29, 0.05, -0.05, 0.08, -0.12, -0.15, 0.0,
  0.06, 0.1, 0.14, 0.08, 0.18, 0.24, 0.1, 0.02, 0.12, -0.04, 0.06, 0.24, 0.08, -0.02, 0.1, 0.05, -0.05, 0.08, 0.02, -0.08, 0.1, 0.04, -0.02, 0.05,
];

const min1H = [
  -1.75, -1.8, -2.0, -1.85, -2.1, -1.9, -2.1, -2.4, -2.0, -2.2, -2.85, -2.3, -2.05, -2.7, -2.2, -2.0, -2.1, -2.0, -2.05, -1.68, -2.2, -2.82, -2.3, -2.5,
  -2.0, -2.8, -2.4, -2.1, -1.95, -1.78, -2.2, -2.4, -2.6, -3.05, -2.1, -2.0, -1.95, -2.1, -2.0, -1.85, -1.9, -1.74, -2.0, -1.66, -2.4, -2.94, -2.2, -1.9,
  -2.5, -3.12, -2.6, -3.33, -2.4, -1.56, -1.9, -2.1, -1.44, -1.9, -2.2, -2.3, -2.0, -2.4, -2.6, -2.8, -2.2, -1.95, -2.5, -3.3, -2.4, -1.8, -1.95, -2.1,
  -2.4, -2.0, -2.3, -2.15, -1.7, -1.2, -2.85, -2.3, -2.8, -2.1, -2.4, -2.5, -2.0, -1.8, -1.9, -1.66, -2.1, -2.35, -2.0, -2.2, -2.1, -1.95, -2.0, -1.8,
  -2.0, -2.1, -2.4, -3.86, -2.3, -2.0, -2.1, -2.4, -2.2, -2.0, -2.9, -2.3, -2.1, -2.2, -2.05, -2.1, -1.8, -2.0, -1.7, -1.55, -1.41, -1.9, -2.1, -2.6,
  -2.2, -1.95, -2.3, -2.82, -2.2, -2.1, -2.5, -2.7, -2.3, -2.0, -2.6, -3.16, -2.2, -2.1, -1.95, -2.3, -2.5, -2.2, -2.6, -3.92, -2.0, -1.96, -2.2, -2.0,
  -2.4, -2.7, -2.6, -3.16, -2.4, -2.0, -1.95, -2.3, -2.5, -2.2, -2.6, -2.4, -2.0, -2.2, -2.5, -3.86, -2.1, -1.8, -2.2, -2.4, -2.1, -2.3, -1.8, -2.3,
];

const panelSeries = [
  [max15T, mean15T, min15T],
  [max30T, mean30T, min30T],
  [max1H, mean1H, min1H],
];

const W = 1395;
const H = 565;
const panelLefts = [46.5, 519.8, 993];
const panelW = 394.5;
const plotTop = 39.5;
const plotBottom = 486;
const font = '"DejaVu Sans", sans-serif';
const tickFs = 18;
const bigFs = 21.6;
const tickLen = 6;
const lineW = 1.8;

const yScale = d3.scaleLinear().domain([-4, 4]).range([plotBottom, plotTop]);

function Panel({ idx }: { idx: number }) {
  const left = panelLefts[idx];
  const right = left + panelW;
  const step = stepMinutes[idx];
  const series = panelSeries[idx];
  const n = d3.max(series, (s) => s.length) as number;
  const x = d3.scaleLinear().domain([0, (n - 1) * step]).range([left, right]);
  const line = d3
    .line<number>()
    .x((_, i) => x(i * step))
    .y((d) => yScale(d));
  const clipId = `clip-${idx}`;

  const legW = 155;
  const legH = 122;
  const legX = idx < 2 ? left + 12 : right - 11 - legW;
  const legY = plotTop + 11;

  return (
    <g>
      <defs>
        <clipPath id={clipId}>
          <rect x={left} y={plotTop} width={panelW} height={plotBottom - plotTop} />
        </clipPath>
      </defs>
      <g clipPath={`url(#${clipId})`}>
        {series.map((s, k) => (
          <path
            key={k}
            d={line(s) || ''}
            fill="none"
            stroke={seriesColors[k]}
            strokeWidth={lineW}
            strokeLinejoin="round"
          />
        ))}
      </g>

      {/* y ticks, inside on both sides */}
      {yTicks.map((t) => (
        <g key={t}>
          <line x1={left} x2={left + tickLen} y1={yScale(t)} y2={yScale(t)} stroke="#000" strokeWidth={1} />
          <line x1={right} x2={right - tickLen} y1={yScale(t)} y2={yScale(t)} stroke="#000" strokeWidth={1} />
          <text
            x={left - 8}
            y={yScale(t) + tickFs * 0.36}
            textAnchor="end"
            fontSize={tickFs}
            fontFamily={font}
          >
            {t < 0 ? `\u2212${Math.abs(t)}` : `${t}`}
          </text>
        </g>
      ))}

      {/* x ticks at each day */}
      {dayLabels.map((lab, d) => {
        const tx = x(d * 1440);
        return (
          <g key={lab}>
            <line x1={tx} x2={tx} y1={plotBottom} y2={plotBottom - tickLen} stroke="#000" strokeWidth={1} />
            <line x1={tx} x2={tx} y1={plotTop} y2={plotTop + tickLen} stroke="#000" strokeWidth={1} />
            <text x={tx} y={510.5} textAnchor="middle" fontSize={tickFs} fontFamily={font}>
              {lab}
            </text>
          </g>
        );
      })}
      <text x={x(0)} y={534} textAnchor="middle" fontSize={tickFs} fontFamily={font}>
        Jul
      </text>
      <text x={x(0)} y={558} textAnchor="middle" fontSize={tickFs} fontFamily={font}>
        2016
      </text>

      <rect
        x={left}
        y={plotTop}
        width={panelW}
        height={plotBottom - plotTop}
        fill="none"
        stroke="#000"
        strokeWidth={1.8}
      />

      <text x={(left + right) / 2} y={30.5} textAnchor="middle" fontSize={bigFs} fontFamily={font}>
        {titles[idx]}
      </text>

      {/* legend */}
      <rect x={legX} y={legY} width={legW} height={legH} fill="#fff" stroke="#000" strokeWidth={1.3} />
      {seriesNames.map((name, k) => {
        const ry = legY + 22 + k * 38.2;
        return (
          <g key={name}>
            <line x1={legX + 16} x2={legX + 52} y1={ry} y2={ry} stroke={seriesColors[k]} strokeWidth={lineW} />
            <text x={legX + 77} y={ry + 8.5} fontSize={bigFs} fontFamily={font}>
              {name}
            </text>
          </g>
        );
      })}
    </g>
  );
}

export default function App() {
  return (
    <svg
      width={W}
      height={H}
      viewBox={`0 0 ${W} ${H}`}
      style={{ position: 'absolute', left: 0, top: 0, display: 'block', background: '#fff' }}
    >
      {titles.map((_, i) => (
        <Panel key={i} idx={i} />
      ))}
    </svg>
  );
}
